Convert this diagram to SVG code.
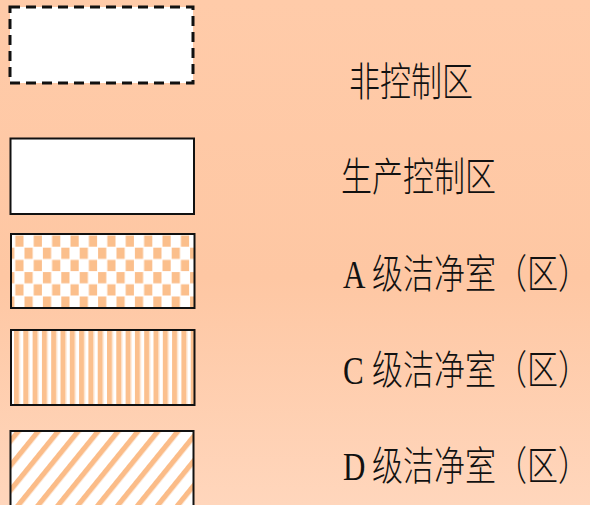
<svg xmlns="http://www.w3.org/2000/svg" width="590" height="505" viewBox="0 0 590 505">
  <defs>
    <linearGradient id="bg" x1="0" y1="0" x2="0" y2="1">
      <stop offset="0" stop-color="#FFCBA9"/>
      <stop offset="0.55" stop-color="#FEC7A3"/>
      <stop offset="1" stop-color="#FFD6BC"/>
    </linearGradient>
    <pattern id="checker" patternUnits="userSpaceOnUse" x="14.8" y="235" width="18.4" height="24.4">
      <rect width="18.4" height="24.4" fill="#FFFFFF"/>
      <rect x="0.5" y="0.5" width="8.2" height="11.2" fill="#FBBF8C"/>
      <rect x="9.7" y="12.7" width="8.2" height="11.2" fill="#FBBF8C"/>
    </pattern>
    <pattern id="vstripes" patternUnits="userSpaceOnUse" x="14" y="0" width="9.3" height="10">
      <rect width="9.3" height="10" fill="#FFFFFF"/>
      <rect x="0" y="0" width="5" height="10" fill="#FBC08E"/>
      <rect x="5" y="0" width="1" height="10" fill="#FDDCBF"/>
    </pattern>
    <pattern id="dstripes" patternUnits="userSpaceOnUse" width="15.5" height="20" patternTransform="translate(12,435) rotate(39)">
      <rect width="15.5" height="20" fill="#FFFFFF"/>
      <rect x="0" y="0" width="5.2" height="20" fill="#FBBC88"/>
    </pattern>
    <style>
      .box { stroke: #111; stroke-width: 2; }
      .dash { fill: #FFFFFF; stroke: #111; stroke-width: 3; stroke-dasharray: 10 6; }
      .lbl { font-family: "Liberation Serif", "Noto Sans CJK SC", serif; font-size: 31px; fill: #111; }
      .cjk { font-family: "Noto Sans CJK SC", "Liberation Serif", sans-serif; font-size: 31px; font-weight: 300; fill: #111; }
    </style>
  </defs>
  <rect width="590" height="505" fill="url(#bg)"/>

  <g id="non-controlled">
    <rect class="dash" x="10" y="7" width="183" height="76"/>
    <text class="cjk" transform="translate(349,96) scale(1,1.3)">非控制区</text>
  </g>

  <g id="production-controlled">
    <rect class="box" x="10.5" y="138.5" width="183.5" height="75.5" fill="#FFFFFF"/>
    <text class="cjk" transform="translate(341,191) scale(1,1.3)">生产控制区</text>
  </g>

  <g id="class-a">
    <rect class="box" x="11" y="234" width="183.5" height="74" fill="url(#checker)"/>
    <text class="lbl" transform="translate(343,288) scale(1,1.3)">A</text>
    <text class="cjk" transform="translate(372,288) scale(1,1.3)">级洁净室（区）</text>
  </g>

  <g id="class-c">
    <rect class="box" x="11" y="330" width="183.5" height="75" fill="url(#vstripes)"/>
    <text class="lbl" transform="translate(343,384) scale(1,1.3)">C</text>
    <text class="cjk" transform="translate(372,384) scale(1,1.3)">级洁净室（区）</text>
  </g>

  <g id="class-d">
    <rect class="box" x="10.5" y="431" width="183" height="90" fill="url(#dstripes)"/>
    <text class="lbl" transform="translate(343,480) scale(1,1.3)">D</text>
    <text class="cjk" transform="translate(372,480) scale(1,1.3)">级洁净室（区）</text>
  </g>
</svg>
